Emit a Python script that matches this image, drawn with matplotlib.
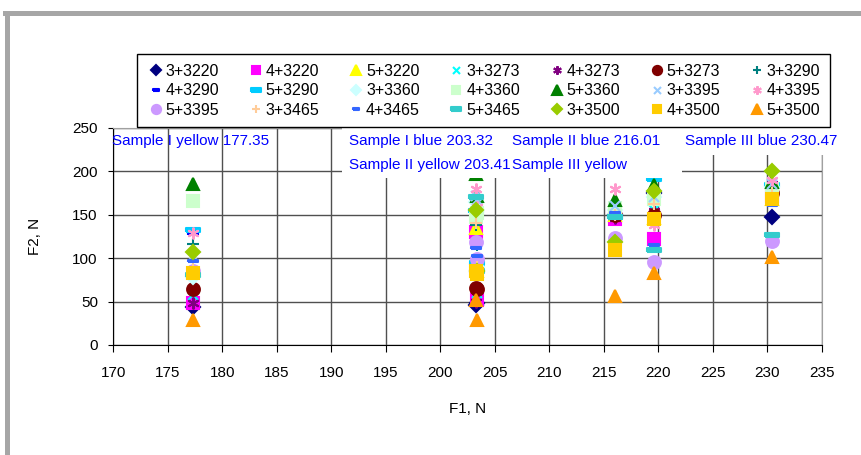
import matplotlib
matplotlib.use("Agg")
import matplotlib.pyplot as plt
from matplotlib.lines import Line2D
from matplotlib.patches import Rectangle
import numpy as np

plt.rcParams["font.family"] = ["Liberation Sans", "DejaVu Sans"]

# F1 positions of the six samples
f1 = [177.35, 203.32, 203.41, 216.01, 219.6, 230.47]

names = ["3+3220", "4+3220", "5+3220", "3+3273", "4+3273", "5+3273", "3+3290",
         "4+3290", "5+3290", "3+3360", "4+3360", "5+3360", "3+3395", "4+3395",
         "5+3395", "3+3465", "4+3465", "5+3465", "3+3500", "4+3500", "5+3500"]

# F2 per series, one value per sample
f2 = [
    [44, 46, 48, 150, 175, 148],
    [48, 130, 52, 145, 122, 172],
    [85, 135, 85, 150, 146, 168],
    [58, 150, 60, 150, 155, 180],
    [48, 50, 160, 146, 154, 185],
    [64, 66, 64, 150, 150, 175],
    [116, 138, 115, 150, 165, 182],
    [128, 144, 100, 146, 179, 186],
    [133, 154, 95, 148, 191, 184],
    [78, 165, 90, 155, 170, 182],
    [166, 148, 152, 158, 168, 180],
    [186, 197, 172, 167, 184, 188],
    [102, 172, 167, 160, 170, 185],
    [129, 180, 159, 180, 138, 190],
    [85, 119, 99, 123, 96, 120],
    [98, 140, 90, 150, 163, 175],
    [97, 112, 102, 152, 115, 161],
    [81, 170, 85, 148, 109, 127],
    [107, 155, 85, 119, 177, 200],
    [83, 85, 82, 110, 145, 168],
    [29, 52, 29, 56, 83, 101],
]

labels = ["Sample I yellow 177.35", "Sample I blue 203.32", "Sample II yellow 203.41",
          "Sample II blue 216.01", "Sample III yellow", "Sample III blue 230.47"]

colors = ["#000080", "#FF00FF", "#FFFF00", "#00FFFF", "#800080", "#800000", "#008080",
          "#0000FF", "#00CCFF", "#CCFFFF", "#CCFFCC", "#008000", "#99CCFF", "#FF99CC",
          "#CC99FF", "#FFCC99", "#3366FF", "#33CCCC", "#99CC00", "#FFCC00", "#FF9900"]

bar = [(-1, -0.32), (1, -0.32), (1, 0.32), (-1, 0.32), (-1, -0.32)]
star = (6, 2, 0)
shapes = ["D", "s", "^", "x", star, "o", "+", bar, bar,
          "D", "s", "^", "x", star, "o", "+", bar, bar,
          "D", "s", "^"]
size_of = {"D": 7, "s": 8.7, "^": 9.2, "x": 7, "o": 9.2, "+": 8}

fig = plt.figure(figsize=(8.62, 4.55), dpi=100)
ax = fig.add_axes([0.1314, 0.2418, 0.8219, 0.4769])

handles = []
for i, (nm, ys) in enumerate(zip(names, f2)):
    m = shapes[i]
    if m is bar:
        ms = 9.5 if i in (8, 17) else 6.5
    elif m is star:
        ms = 8.5
    else:
        ms = size_of[m]
    h, = ax.plot(f1, ys, linestyle="none", marker=m, ms=ms, color=colors[i],
                 mec=colors[i], mew=1.5, label=nm, zorder=3 + i * 0.01)
    handles.append(h)

ax.set_xlim(170, 235)
ax.set_ylim(0, 250)
ax.set_xticks(np.arange(170, 236, 5))
ax.set_yticks(np.arange(0, 251, 50))
ax.grid(True, color="#505050", lw=1)
ax.set_axisbelow(True)
for s in ("top", "right"):
    ax.spines[s].set_color("#A0A0A0")
for s in ("left", "bottom"):
    ax.spines[s].set_color("black")
ax.tick_params(axis="x", length=5, pad=10, labelsize=11, direction="out")
ax.tick_params(axis="y", length=3.6, pad=7.5, labelsize=11, direction="out")
ax.set_xlabel("F1, N", fontsize=11, labelpad=16)
ax.set_ylabel("F2, N", fontsize=11, labelpad=22)

# white backgrounds behind the sample labels
ax.add_patch(Rectangle((191.0, 192), 31.2, 57.5, fc="white", ec="none", zorder=4))
ax.add_patch(Rectangle((222.2, 219), 14.5, 30.5, fc="white", ec="none", zorder=4,
                       clip_on=False))
label_pos = [(169.9, 235), (191.6, 235), (191.6, 207.5),
             (206.6, 235), (206.6, 207.5), (222.5, 235)]
for t, (lx, ly) in zip(labels, label_pos):
    ax.text(lx, ly, t, color="#0000FF", fontsize=11, va="center", ha="left",
            zorder=5, clip_on=False)

# legend reads row by row in the reference
ncol, nrow = 7, 3
order = [r * ncol + c for c in range(ncol) for r in range(nrow)]
leg = fig.legend(handles=[handles[k] for k in order], ncol=ncol, loc="upper left",
                 mode="expand", bbox_to_anchor=(0.159, 0.734, 0.804, 0.147),
                 borderaxespad=0, fontsize=11.5, frameon=True, fancybox=False,
                 edgecolor="black", framealpha=1, borderpad=0.6, handlelength=1.15,
                 handletextpad=0.05, labelspacing=0.28, markerscale=0.72,
                 columnspacing=0.5)
leg.get_frame().set_linewidth(1)

# grey outer frame
fig.add_artist(Line2D([0.0087, 0.0087], [0, 0.9725], color="#A6A6A6", lw=3.6))
fig.add_artist(Line2D([0.006, 1], [0.9725, 0.9725], color="#A6A6A6", lw=3.6))

fig.savefig("out.png", dpi=100)
